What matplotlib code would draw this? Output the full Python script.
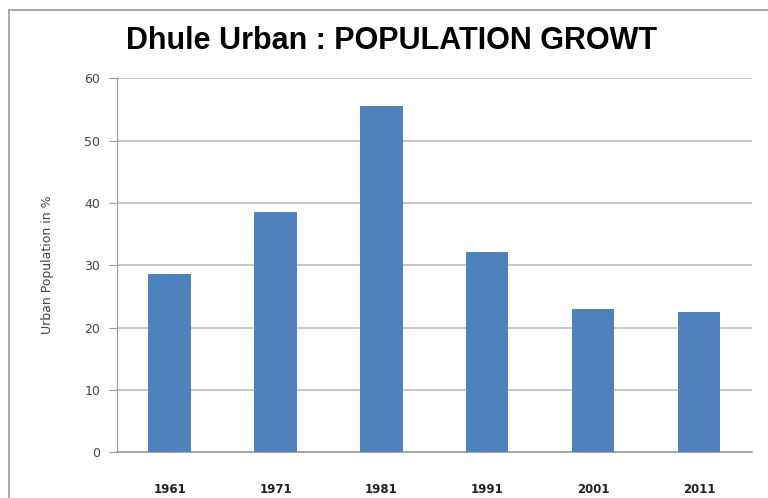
import matplotlib.pyplot as plt
from matplotlib.patches import Rectangle

years = ["1961", "1971", "1981", "1991", "2001", "2011"]
urban_pct = [28.6, 38.5, 55.5, 32.1, 22.9, 22.5]

fig = plt.figure(figsize=(7.68, 4.98), dpi=100)
ax = fig.add_axes([0.152, 0.092, 0.827, 0.751])

# outer chart frame
fig.patches.append(Rectangle((0.012, -0.1), 1.2, 1.08, transform=fig.transFigure,
                             fill=False, edgecolor="#9a9a9a", linewidth=1.2))

x = range(len(years))
ax.bar(x, urban_pct, width=0.4, color="#4F81BD", zorder=3)

ax.set_xlim(-0.5, len(years) - 0.5)
ax.set_ylim(0, 60)
ax.set_yticks(range(0, 61, 10))
ax.set_xticks(list(x))
ax.set_xticklabels(years, fontweight="bold", fontsize=8.5, color="#222222")
ax.tick_params(axis="x", length=0, pad=22)
ax.tick_params(axis="y", length=6, color="#9a9a9a", labelsize=9, labelcolor="#444444", pad=6)
ax.grid(axis="y", color="#bdbdbd", linewidth=1.2, zorder=0)

for side in ["top", "right"]:
    ax.spines[side].set_visible(False)
ax.spines["left"].set_color("#9a9a9a")
ax.spines["bottom"].set_color("#9a9a9a")
ax.spines["bottom"].set_linewidth(1.2)

ax.set_ylabel("Urban Population in %", fontsize=9, color="#444444", labelpad=22)
fig.text(0.51, 0.918, "Dhule Urban : POPULATION GROWT", ha="center", va="center",
         fontsize=22, fontweight="bold", family="Liberation Sans")

fig.savefig("out.png", dpi=100)
